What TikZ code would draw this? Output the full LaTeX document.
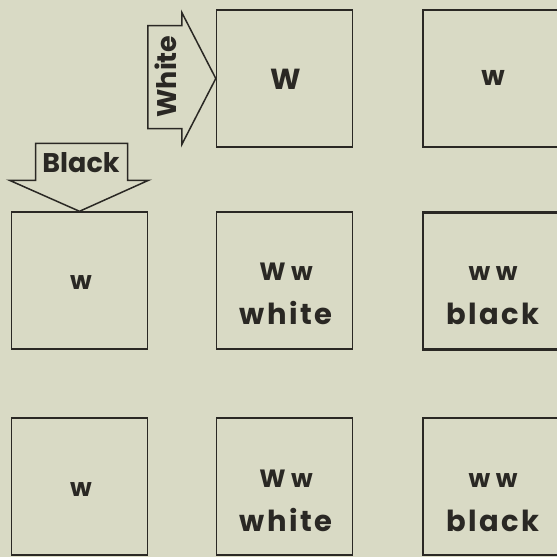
\documentclass[tikz,border=0pt]{standalone}
\usepackage{fontspec}
\setmainfont{Poppins Bold}
\newfontfamily\spaced{Poppins Bold}[LetterSpace=22]
\newfontfamily\wide{Poppins Bold}[LetterSpace=8]
\usetikzlibrary{positioning}
\definecolor{paper}{RGB}{217,218,197}
\definecolor{pen}{RGB}{42,40,36}
\tikzset{
  cell/.style={draw=pen,line width=1.4pt,minimum width=136pt,minimum height=137pt,inner sep=0pt},
  heavy/.style={cell,line width=2.5pt},
  small/.style={font=\spaced\fontsize{25}{28}\selectfont,text=pen,anchor=base,inner sep=0pt},
  large/.style={font=\wide\fontsize{29}{34}\selectfont,text=pen,anchor=base,inner sep=0pt},
  tag/.style={font=\fontsize{27}{30}\selectfont,text=pen,inner sep=0pt},
  fat arrow/.style={draw=pen,line width=1.5pt,line join=miter},
}

\begin{document}
\begin{tikzpicture}[x=1pt,y=-1pt]
  \fill[paper] (0,0) rectangle (557,557);
  \useasboundingbox (0,0) rectangle (557,557);
  % squares
  \node[cell] (c12) at (284.5,78.5) {};
  \node[cell] (c13) at (491,78.5) {};
  \node[cell] (c21) at (79.5,280.5) {};
  \node[cell] (c22) at (284.5,280.5) {};
  \node[heavy] (c23) at (491,281) {};
  \node[cell] (c31) at (79.5,486.5) {};
  \node[cell] (c32) at (284.5,486.5) {};
  \node[heavy] (c33) at (491,486.5) {};
  % letters
  \node[large] (w12) at (286,89) {W};
  \node[small,font=\spaced\fontsize{27}{30}\selectfont] (w13) at (493,85) {w};
  \foreach \r/\y in {2/289,3/496}
    \node[small] (w\r1) at (81,\y) {w};
  \foreach \r/\y in {2/280,3/487}{
    \node[small] (ww\r2) at (286,\y) {Ww};
    \node[large] (col\r2) at (286,\y+44) {white};
    \node[small] (ww\r3) at (493,\y) {ww};
    \node[large] (col\r3) at (493,\y+44) {black};
  }
  % big arrows
  \draw[fat arrow] (c12.west) -- ++(-34,-66) -- ++(0,13) -- ++(-34,0)
    -- ++(0,103) -- ++(34,0) -- ++(0,16) -- cycle;
  \node[tag,rotate=90] (white) at (166,76.5) {White};
  \draw[fat arrow] (c21.north) -- ++(69,-31) -- ++(-21,0) -- ++(0,-37)
    -- ++(-92,0) -- ++(0,37) -- ++(-26,0) -- cycle;
  \node[tag] (black) at (81,163) {Black};
\end{tikzpicture}
\end{document}
